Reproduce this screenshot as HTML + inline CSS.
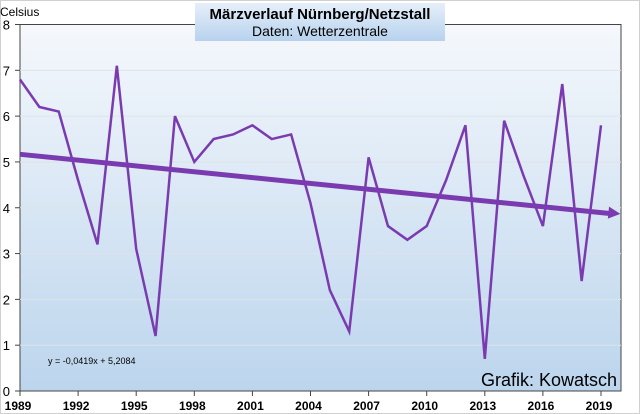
<!DOCTYPE html>
<html><head><meta charset="utf-8"><style>
body{margin:0;background:#fff}
svg{display:block;font-family:"Liberation Sans",sans-serif}
</style></head><body>
<svg width="640" height="414" viewBox="0 0 640 414">
<defs>
<linearGradient id="bg" x1="0" y1="0" x2="0" y2="1"><stop offset="0" stop-color="#f5f8fc"/><stop offset="1" stop-color="#bcd5ed"/></linearGradient>
<linearGradient id="tb" x1="0" y1="0" x2="0" y2="1"><stop offset="0" stop-color="#e6eff9"/><stop offset="1" stop-color="#b7d2ee"/></linearGradient>
</defs>
<rect x="0.5" y="0.5" width="639" height="413" fill="#fff" stroke="#d0d0d0"/>
<rect x="20" y="24.5" width="601" height="366.5" fill="url(#bg)" stroke="#444" stroke-width="1"/>
<g id="grid"></g><g id="axes"></g>
<polyline id="series" fill="none" stroke="#7b3bb0" stroke-width="2.5" stroke-linejoin="miter"/>
<line id="trend" stroke="#7b3bb0" stroke-width="5"/>
<polygon id="arrow" fill="#7b3bb0"/>
<text x="0" y="16" font-size="12">Celsius</text>
<rect x="195" y="3" width="250" height="38" fill="url(#tb)"/>
<text x="320" y="19" font-size="15" font-weight="bold" text-anchor="middle">Märzverlauf Nürnberg/Netzstall</text>
<text x="320" y="36" font-size="14" text-anchor="middle">Daten: Wetterzentrale</text>
<text x="48" y="364" font-size="9">y = -0,0419x + 5,2084</text>
<text x="617" y="386" font-size="18" text-anchor="end">Grafik: Kowatsch</text>
</svg>
<script>
const years=[1989,1990,1991,1992,1993,1994,1995,1996,1997,1998,1999,2000,2001,2002,2003,2004,2005,2006,2007,2008,2009,2010,2011,2012,2013,2014,2015,2016,2017,2018,2019];
const temps=[6.8,6.2,6.1,4.6,3.2,7.1,3.1,1.2,6.0,5.0,5.5,5.6,5.8,5.5,5.6,4.1,2.2,1.3,5.1,3.6,3.3,3.6,4.6,5.8,0.7,5.9,4.7,3.6,6.7,2.4,5.8];
const yTicks=[0,1,2,3,4,5,6,7,8];
const xTickYears=[1989,1992,1995,1998,2001,2004,2007,2010,2013,2016,2019];
const trendSlope=-0.0419, trendIntercept=5.2084;
const NS='http://www.w3.org/2000/svg';
const X=yr=>20+(yr-1989)*(601-20)/30;
const Y=v=>391-v*(391-24.5)/8;
function mk(t,a,p){const e=document.createElementNS(NS,t);for(const k in a)e.setAttribute(k,a[k]);p.appendChild(e);return e;}
const grid=document.getElementById('grid'),axes=document.getElementById('axes');
yTicks.forEach(v=>{
 if(v>0&&v<8){const g=mk('line',{x1:20,x2:621,y1:Y(v),y2:Y(v),stroke:'#dde3ea','stroke-width':1},grid);
 
 }
 const t=mk('line',{x1:15,x2:20,y1:Y(v),y2:Y(v),stroke:'#444'},axes);
 
 
 const l=mk('text',{x:10,y:Y(v)+5,'font-size':13,'text-anchor':'end'},axes);l.textContent=v;
 
 
});
xTickYears.forEach(yr=>{
 const t=mk('line',{x1:X(yr),x2:X(yr),y1:391,y2:396,stroke:'#444'},axes);
 
 
 const l=mk('text',{x:X(yr)-2,y:410,'font-size':12,'font-weight':'bold','text-anchor':'middle'},axes);l.textContent=yr;
 
 
});
document.getElementById('series').setAttribute('points',temps.map((v,i)=>X(years[i])+','+Y(v)).join(' '));
const tv=n=>trendSlope*n+trendIntercept;
const x1=X(1989),y1=Y(tv(1)),x2=X(1989)+31*(601-20)/30,y2=Y(tv(32));
const tr=document.getElementById('trend');
tr.setAttribute('x1',x1);tr.setAttribute('y1',y1);tr.setAttribute('x2',x2-8);tr.setAttribute('y2',y2-0.1);
const ang=Math.atan2(y2-y1,x2-x1),c=Math.cos(ang),s=Math.sin(ang);
const bx=x2-12*c,by=y2-12*s;
document.getElementById('arrow').setAttribute('points',`${x2},${y2} ${bx-6*s},${by+6*c} ${bx+6*s},${by-6*c}`);
</script>
</body></html>
